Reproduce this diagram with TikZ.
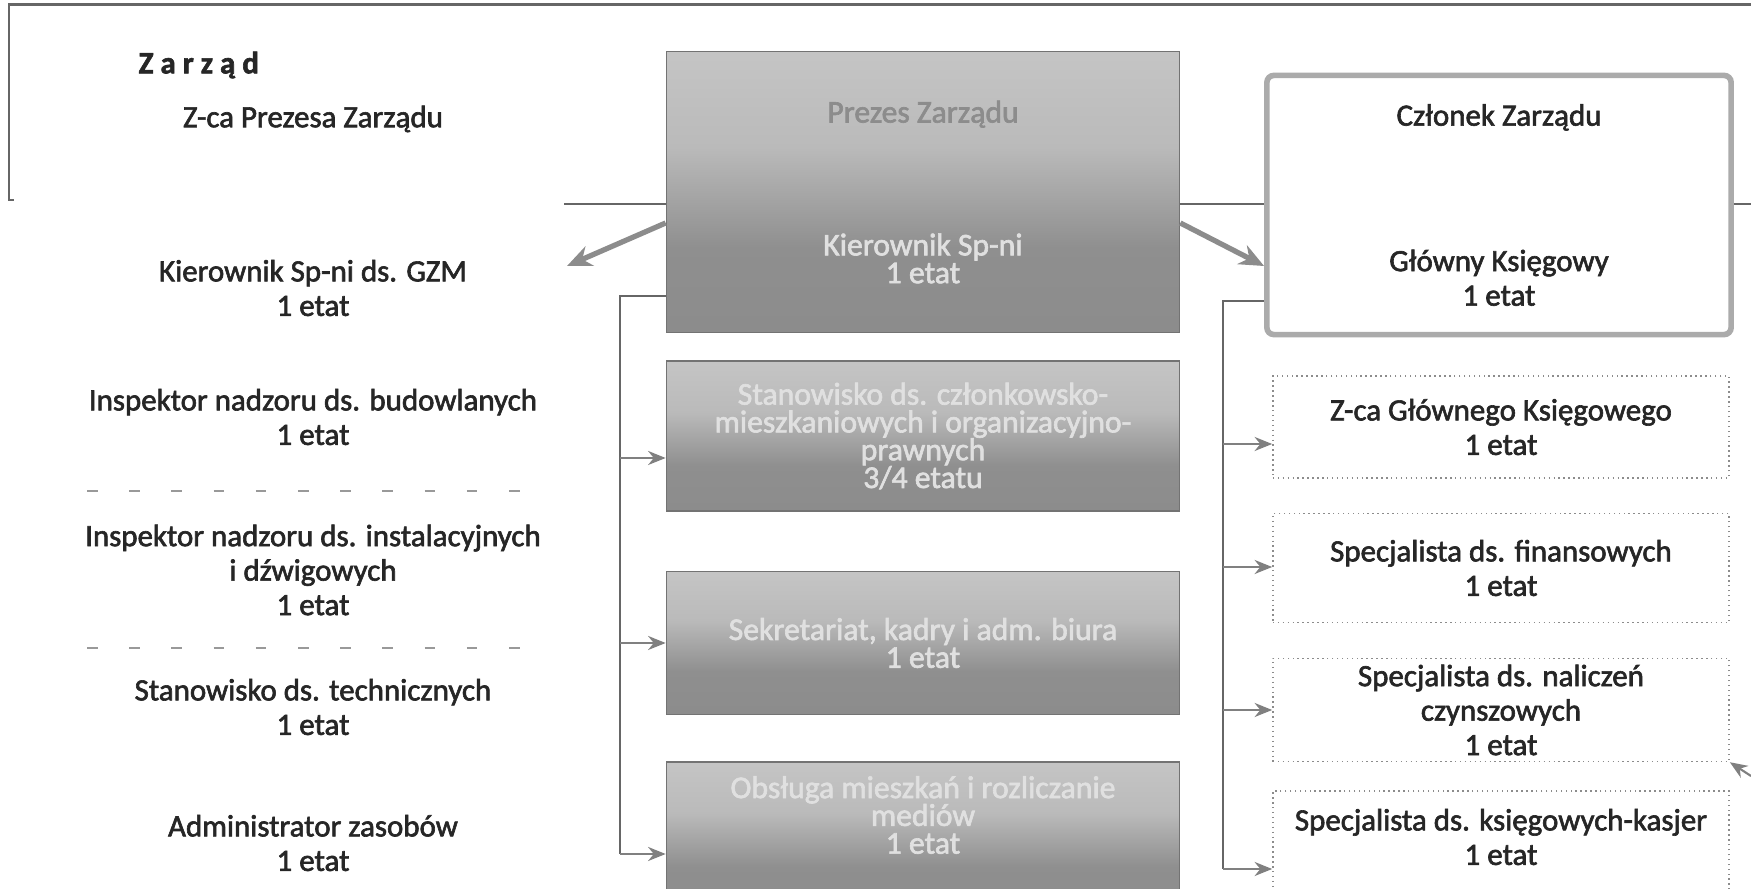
\documentclass[tikz,border=0pt]{standalone}
\usepackage{fontspec}
\setmainfont{Carlito}[FakeBold=2]
\usepackage{tikz}
\usetikzlibrary{arrows.meta, positioning, calc}

\newcommand{\chartfont}{\fontsize{8.8}{9.8}\selectfont}
\newcommand{\boxfont}{\fontsize{9}{7.9}\selectfont}

% light top, dark lower half (as in the scanned boxes)
\pgfdeclareverticalshading{greyshade}{100bp}{color(0bp)=(black!47); color(40bp)=(black!44); color(58bp)=(black!27); color(100bp)=(black!17)}

\begin{document}
\begin{tikzpicture}[
    x=0.01cm, y=-0.01cm,
    % Define styles for the nodes
    base_node/.style={rectangle, align=center, font=\chartfont, inner sep=0pt},
    label_node/.style={base_node, text=black!85},
    grey_node/.style={base_node, draw=black!55, shading=greyshade, text=black!12, font=\boxfont, minimum width=5.13cm},
    grey_label/.style={base_node, text=black!12, font=\boxfont},
    head_node/.style={base_node, draw=black!33, line width=1.6pt, rounded corners=2pt, text=black!85, minimum width=4.64cm},
    post_node/.style={base_node, draw=black!45, densely dotted, text=black!85, minimum width=4.56cm},
    % Styles for arrows
    link/.style={draw=black!60, semithick},
    arrow/.style={-{Stealth[length=5pt,width=4pt]}, draw=black!50, semithick},
    big_arrow/.style={-{Stealth[length=7pt,width=6pt]}, draw=black!45, line width=1.5pt},
    faint/.style={draw=black!40, dash pattern=on 3pt off 9pt}
]
    \path [use as bounding box, clip] (0,0) rectangle (1751,889);

    % =========================================================================
    % BOARD FRAME (Zarzad)
    % =========================================================================
    \draw [link] (1751,4.5) -| (9,200) -- (14,200);

    \node (board_title) [label_node, font=\chartfont\bfseries, anchor=west] at (138,65) {Z a r z ą d};
    \node (deputy_pres) [label_node] at (313,119) {Z-ca Prezesa Zarządu};

    % =========================================================================
    % LEFT COLUMN - TECHNICAL STAFF (text only)
    % =========================================================================
    \node (gzm_head) [label_node] at (313,288) {Kierownik Sp-ni ds. GZM\\1 etat};
    \node (build_insp) [label_node] at (313,417) {Inspektor nadzoru ds. budowlanych\\1 etat};
    \node (inst_insp) [label_node] at (313,570) {Inspektor nadzoru ds. instalacyjnych\\i dźwigowych\\1 etat};
    \node (tech_post) [label_node] at (313,707) {Stanowisko ds. technicznych\\1 etat};
    \node (res_admin) [label_node] at (313,843) {Administrator zasobów\\1 etat};

    % faded box edges from the scan
    \draw [faint] (87,491) -- (542,491);
    \draw [faint] (87,648) -- (542,648);

    % =========================================================================
    % MIDDLE COLUMN - PRESIDENT AND OFFICE
    % =========================================================================
    \node (president) [grey_node, minimum height=2.81cm] at (923,192) {{\color{black!45}Prezes Zarządu}\\[1.05cm]Kierownik Sp-ni\\1 etat};

    \node (members) [grey_node, minimum height=1.5cm] at (923,436) {Stanowisko ds. członkowsko-\\mieszkaniowych i organizacyjno-\\prawnych\\3/4 etatu};
    \node (office) [grey_node, minimum height=1.43cm] at (923,643) {Sekretariat, kadry i adm. biura\\1 etat};
    \node (flats) [grey_node, minimum height=1.5cm] at (923,837) {};
    \node (flats_text) [grey_label] at (923,815) {Obsługa mieszkań i rozliczanie\\mediów\\1 etat};

    % =========================================================================
    % RIGHT COLUMN - BOARD MEMBER AND ACCOUNTING
    % =========================================================================
    \node (chief_acc) [head_node, minimum height=2.59cm] at (1499,205) {Członek Zarządu\\[1.11cm]Główny Księgowy\\1 etat};

    \node (deputy_acc) [post_node, minimum height=1.02cm] at (1501,427) {Z-ca Głównego Księgowego\\1 etat};
    \node (finance) [post_node, minimum height=1.09cm] at (1501,568) {Specjalista ds. finansowych\\1 etat};
    \node (rent_spec) [post_node, minimum height=1.03cm] at (1501,710) {Specjalista ds. naliczeń\\czynszowych\\1 etat};
    \node (cashier) [post_node, minimum height=1.2cm] at (1501,851) {};
    \node (cashier_text) [label_node] at (1501,837) {Specjalista ds. księgowych-kasjer\\1 etat};

    % =========================================================================
    % CONNECTORS
    % =========================================================================
    \coordinate (board_left) at (564,204);
    \coordinate (board_right) at (1751,204);
    \coordinate (gzm_tip) at (567,266);
    \coordinate (office_bus) at (620,296);
    \coordinate (acc_bus) at (1223,301);
    \coordinate (edge_in) at (1751,776);

    \draw [link] (board_left) -- (president.west |- board_left);
    \draw [link] (president.east |- board_left) -- (chief_acc.west |- board_left);
    \draw [link] (chief_acc.east |- board_right) -- (board_right);

    \draw [big_arrow] ($(president.west)+(0,31)$) -- (gzm_tip);
    \draw [big_arrow] ($(president.east)+(0,31)$) -- ($(chief_acc.west)+(0,61)$);

    % office staff under the president
    \draw [link] (president.west |- office_bus) -- (office_bus) -- ($(office_bus |- flats.west)+(0,17)$);
    \draw [arrow] ($(office_bus |- members.west)+(0,22)$) -- ($(members.west)+(0,22)$);
    \draw [arrow] (office_bus |- office.west) -- (office.west);
    \draw [arrow] ($(office_bus |- flats.west)+(0,17)$) -- ($(flats.west)+(0,17)$);

    % accounting staff under the chief accountant
    \draw [link] (chief_acc.west |- acc_bus) -- (acc_bus) -- ($(acc_bus |- cashier.west)+(0,18)$);
    \draw [arrow] ($(acc_bus |- deputy_acc.west)+(0,17)$) -- ($(deputy_acc.west)+(0,17)$);
    \draw [arrow] ($(acc_bus |- finance.west)+(0,-1)$) -- ($(finance.west)+(0,-1)$);
    \draw [arrow] (acc_bus |- rent_spec.west) -- (rent_spec.west);
    \draw [arrow] ($(acc_bus |- cashier.west)+(0,18)$) -- ($(cashier.west)+(0,18)$);

    \draw [arrow] (edge_in) -- (rent_spec.south east);

\end{tikzpicture}
\end{document}
